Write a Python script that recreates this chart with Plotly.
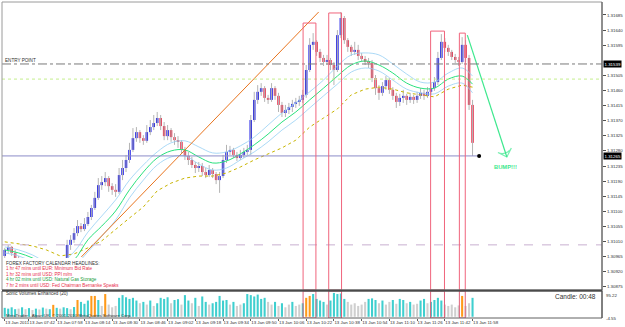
import plotly.graph_objects as go

# ---------------- data ----------------
candle_idx = list(range(136))
opens = [1.30967,1.30985,1.30994,1.30976,1.30961,1.30943,1.30931,1.30937,1.30919,1.30907,
         1.30919,1.30910,1.30895,1.30901,1.30913,1.30907,1.30925,1.30937,1.30949,1.31000,
         1.31015,1.31035,1.31056,1.31047,1.31062,1.31083,1.31110,1.31140,1.31178,1.31187,
         1.31199,1.31175,1.31164,1.31158,1.31208,1.31229,1.31253,1.31283,1.31318,1.31336,
         1.31318,1.31310,1.31336,1.31351,1.31363,1.31378,1.31354,1.31324,1.31342,1.31321,
         1.31312,1.31307,1.31283,1.31265,1.31253,1.31238,1.31229,1.31235,1.31217,1.31208,
         1.31223,1.31211,1.31193,1.31205,1.31253,1.31277,1.31283,1.31268,1.31259,1.31268,
         1.31277,1.31283,1.31372,1.31432,1.31456,1.31467,1.31438,1.31432,1.31467,1.31444,
         1.31417,1.31393,1.31402,1.31411,1.31420,1.31426,1.31432,1.31447,1.31521,1.31596,
         1.31605,1.31575,1.31557,1.31545,1.31551,1.31536,1.31521,1.31625,1.31676,1.31610,
         1.31590,1.31575,1.31581,1.31563,1.31554,1.31545,1.31542,1.31497,1.31467,1.31453,
         1.31473,1.31491,1.31462,1.31444,1.31426,1.31438,1.31444,1.31432,1.31441,1.31432,
         1.31444,1.31453,1.31444,1.31456,1.31467,1.31485,1.31557,1.31605,1.31587,1.31575,
         1.31560,1.31551,1.31545,1.31596,1.31557,1.31417]
closes = [1.30985,1.30994,1.30976,1.30961,1.30943,1.30931,1.30937,1.30919,1.30907,1.30919,
          1.30910,1.30895,1.30901,1.30913,1.30907,1.30925,1.30937,1.30949,1.31000,1.31015,
          1.31035,1.31056,1.31047,1.31062,1.31083,1.31110,1.31140,1.31178,1.31187,1.31199,
          1.31175,1.31164,1.31158,1.31208,1.31229,1.31253,1.31283,1.31318,1.31336,1.31318,
          1.31310,1.31336,1.31351,1.31363,1.31378,1.31354,1.31324,1.31342,1.31321,1.31312,
          1.31307,1.31283,1.31265,1.31253,1.31238,1.31229,1.31235,1.31217,1.31208,1.31223,
          1.31211,1.31193,1.31205,1.31253,1.31277,1.31283,1.31268,1.31259,1.31268,1.31277,
          1.31283,1.31372,1.31432,1.31456,1.31467,1.31438,1.31432,1.31467,1.31444,1.31417,
          1.31393,1.31402,1.31411,1.31420,1.31426,1.31432,1.31447,1.31521,1.31596,1.31605,
          1.31575,1.31557,1.31545,1.31551,1.31536,1.31521,1.31625,1.31676,1.31610,1.31590,
          1.31575,1.31581,1.31563,1.31554,1.31545,1.31542,1.31497,1.31467,1.31453,1.31473,
          1.31491,1.31462,1.31444,1.31426,1.31438,1.31444,1.31432,1.31441,1.31432,1.31444,
          1.31453,1.31444,1.31456,1.31467,1.31485,1.31557,1.31605,1.31587,1.31575,1.31560,
          1.31551,1.31545,1.31596,1.31557,1.31417,1.31304]
highs = [1.30991,1.31000,1.30997,1.30985,1.30967,1.30955,1.30946,1.30949,1.30931,1.30925,
         1.30931,1.30925,1.30910,1.30919,1.30925,1.30931,1.30940,1.30955,1.31015,1.31029,
         1.31050,1.31074,1.31065,1.31080,1.31098,1.31119,1.31158,1.31199,1.31205,1.31217,
         1.31205,1.31184,1.31181,1.31229,1.31253,1.31268,1.31304,1.31348,1.31351,1.31342,
         1.31327,1.31357,1.31372,1.31387,1.31396,1.31387,1.31366,1.31357,1.31348,1.31333,
         1.31324,1.31312,1.31292,1.31277,1.31262,1.31247,1.31247,1.31244,1.31229,1.31238,
         1.31229,1.31217,1.31217,1.31268,1.31298,1.31295,1.31289,1.31277,1.31283,1.31289,
         1.31298,1.31387,1.31456,1.31476,1.31482,1.31473,1.31447,1.31482,1.31473,1.31453,
         1.31426,1.31417,1.31423,1.31432,1.31438,1.31444,1.31462,1.31536,1.31616,1.31631,
         1.31610,1.31584,1.31566,1.31566,1.31557,1.31545,1.31640,1.31694,1.31682,1.31616,
         1.31596,1.31605,1.31596,1.31572,1.31563,1.31557,1.31551,1.31506,1.31476,1.31485,
         1.31503,1.31497,1.31470,1.31453,1.31450,1.31462,1.31450,1.31453,1.31447,1.31456,
         1.31467,1.31462,1.31470,1.31482,1.31500,1.31575,1.31628,1.31616,1.31596,1.31581,
         1.31569,1.31560,1.31619,1.31610,1.31566,1.31432]
lows = [1.30961,1.30973,1.30967,1.30949,1.30937,1.30925,1.30919,1.30910,1.30895,1.30895,
        1.30901,1.30889,1.30880,1.30889,1.30895,1.30901,1.30910,1.30925,1.30940,1.30985,
        1.31006,1.31026,1.31038,1.31041,1.31056,1.31074,1.31104,1.31134,1.31164,1.31175,
        1.31158,1.31149,1.31143,1.31152,1.31193,1.31217,1.31244,1.31277,1.31307,1.31304,
        1.31298,1.31304,1.31327,1.31342,1.31354,1.31342,1.31312,1.31312,1.31307,1.31298,
        1.31289,1.31271,1.31253,1.31238,1.31229,1.31214,1.31217,1.31205,1.31199,1.31202,
        1.31199,1.31181,1.31155,1.31199,1.31244,1.31268,1.31259,1.31250,1.31253,1.31259,
        1.31268,1.31268,1.31366,1.31420,1.31444,1.31426,1.31420,1.31426,1.31432,1.31396,
        1.31381,1.31381,1.31390,1.31396,1.31408,1.31414,1.31423,1.31438,1.31515,1.31581,
        1.31563,1.31545,1.31533,1.31536,1.31521,1.31476,1.31515,1.31616,1.31599,1.31575,
        1.31563,1.31566,1.31551,1.31545,1.31536,1.31527,1.31485,1.31447,1.31432,1.31444,
        1.31462,1.31450,1.31432,1.31408,1.31414,1.31423,1.31417,1.31423,1.31420,1.31423,
        1.31435,1.31432,1.31438,1.31447,1.31459,1.31476,1.31551,1.31575,1.31563,1.31551,
        1.31542,1.31533,1.31539,1.31545,1.31402,1.31265]

volumes = [33,30,35,28, 30,35,28,32,25,30,27,34,30,28, 44, 33,30,35,32,28,36, 62, 55,48,60,
           77,77,62,40,84, 45,35,40, 70,80, 72,66,70,60, 50,55,45,60,40,50, 70,66,72,50,62,
           65,45,80,60,50,70,40,75,55, 45,50,55, 77, 60,62,45, 55, 40,45,50, 84,80,75,82,
           66,70,55, 45,55,40,50,35,45,55,40, 45,50, 70, 77, 84, 66,60,55, 45,60, 88,84,86,
           66, 55,45,50,40,45,55, 66,68,62, 50,60,45,55,62,48,66, 62,50,55,45,48,
           60,66,50,55,62, 70,60,45, 40,45,35,42, 77, 40, 50, 70]
vol_class = ["t","t","t","t", "g","t","g","t","g","t","g","t","g","t", "o",
             "t","g","t","t","g","t", "o", "t","t","t", "o","o","t","g","o",
             "g","g","g", "t","t", "t","t","t","t", "g","t","g","t","g","t",
             "t","t","t","g","t", "t","g","t","t","g","t","g","t","t",
             "g","t","t", "t", "t","t","g", "t", "g","g","t", "t","t","t","t",
             "t","t","g", "g","t","g","t","g","g","t","g", "g","t", "o", "o", "t",
             "t","t","t", "g","t", "t","t","t", "t", "g","g","g","g","g","g",
             "t","t","t", "g","t","g","g","t","g","t", "t","g","t","g","g",
             "t","t","g","t","t", "t","t","g", "g","g","g","g", "o", "g", "g", "t"]

ma_idx = [0,4,8,12,16,20,24,28,32,36,40,44,48,52,56,60,64,68,72,76,80,84,88,92,96,100,
          104,108,112,116,120,124,128,132,135]
ma_mid = [1.30985,1.30976,1.30961,1.30940,1.30931,1.30955,1.31015,1.31056,1.31101,1.31164,
          1.31217,1.31259,1.31280,1.31283,1.31262,1.31244,1.31250,1.31271,1.31298,1.31330,
          1.31366,1.31396,1.31432,1.31467,1.31503,1.31536,1.31548,1.31536,1.31512,1.31482,
          1.31467,1.31467,1.31494,1.31503,1.31479]
ma_high = [1.30994,1.30985,1.30970,1.30949,1.30949,1.30979,1.31038,1.31086,1.31134,1.31193,
           1.31238,1.31277,1.31304,1.31310,1.31292,1.31274,1.31277,1.31295,1.31321,1.31357,
           1.31393,1.31423,1.31456,1.31491,1.31533,1.31566,1.31572,1.31566,1.31539,1.31509,
           1.31485,1.31485,1.31512,1.31527,1.31503]
ma_low = [1.30976,1.30967,1.30949,1.30925,1.30919,1.30937,1.30979,1.31026,1.31074,1.31140,
          1.31193,1.31238,1.31262,1.31265,1.31241,1.31223,1.31229,1.31253,1.31277,1.31307,
          1.31342,1.31372,1.31408,1.31444,1.31479,1.31515,1.31527,1.31518,1.31491,1.31464,
          1.31453,1.31450,1.31473,1.31482,1.31453]
ma_slow = [1.31009,1.31003,1.30997,1.30985,1.30967,1.30973,1.30991,1.31012,1.31047,1.31080,
           1.31113,1.31161,1.31184,1.31199,1.31205,1.31205,1.31214,1.31232,1.31253,1.31271,
           1.31289,1.31312,1.31351,1.31378,1.31405,1.31447,1.31464,1.31470,1.31464,1.31453,
           1.31447,1.31441,1.31464,1.31476,1.31470]

tick_idx = [0,7,15,23,31,39,47,55,63,71,79,87,95,103,111,119,127,135]
tick_labels = ["13 Jan 2011","13 Jan 07:42","13 Jan 07:58","13 Jan 08:14","13 Jan 08:30",
               "13 Jan 08:46","13 Jan 09:02","13 Jan 09:18","13 Jan 09:34","13 Jan 09:50",
               "13 Jan 10:06","13 Jan 10:22","13 Jan 10:38","13 Jan 10:54","13 Jan 11:10",
               "13 Jan 11:26","13 Jan 11:42","13 Jan 11:58"]
price_ticks = [1.31685,1.31640,1.31595,1.31505,1.31460,1.31415,1.31370,1.31325,1.31280,
               1.31235,1.31190,1.31145,1.31100,1.31055,1.31010,1.30965,1.30920,1.30875]

entry_price = 1.31539
target_level = 1.31494
bid_price = 1.31265
low_level = 1.31000
trend_x = [22.1, 90.6]
trend_y = [1.30964, 1.31694]
arrow_x = [133.5, 144.9]
arrow_y = [1.31625, 1.31262]
bump_pos = (144.6, 1.31232)
bid_dot_x = 136.9
box_x0 = [86.1, 93.5, 122.9, 131.2]
box_x1 = [89.8, 97.2, 126.9, 132.9]
box_top = [1.31661, 1.31691, 1.31637, 1.31631]
vol_max, vol_min = 95.22, -4.55
calendar_lines = [("FOREX FACTORY CALENDAR HEADLINES:", "#303030"),
                  ("1 hr 47 mins until EUR: Minimum Bid Rate", "#E8304C"),
                  ("1 hr 32 mins until USD: PPI m/m", "#E8304C"),
                  ("4 hr 02 mins until USD: Natural Gas Storage", "#20A040"),
                  ("7 hr 2 mins until USD: Fed Chairman Bernanke Speaks", "#E8304C")]

# ---------------- layout constants ----------------
W, H = 625, 327
ML, MR, MT, MB = 2, 17, 2, 9
PH = H - MT - MB
def py(px):  # pixel row -> paper fraction
    return (H - MB - px) / PH
main_dom = [py(290), 1]
vol_dom = [0, py(291)]
x_rng = [-0.79, 172.36]
y_rng = [1.308655, 1.317237]
FONT = "Liberation Sans"
fs = 4.4

BLUE, RED, WICK = "#1414E6", "#EA2C4A", "#B4B4B4"
vol_colors = {"g": "#CFCFCF", "t": "#3FCFCF", "o": "#FF9A1A"}

fig = go.Figure()

# wicks
wx, wy = [], []
for i, h, l in zip(candle_idx, highs, lows):
    wx += [i, i, None]
    wy += [l, h, None]
fig.add_trace(go.Scatter(x=wx, y=wy, mode="lines", line=dict(color=WICK, width=1),
                         hoverinfo="skip", showlegend=False))
# bodies
fig.add_trace(go.Bar(x=candle_idx, base=[min(o, c) for o, c in zip(opens, closes)],
                     y=[max(abs(c - o), 0.000015) for o, c in zip(opens, closes)],
                     marker=dict(color=[BLUE if c >= o else RED for o, c in zip(opens, closes)],
                                 line_width=0),
                     width=0.72, showlegend=False, yaxis="y"))

# moving averages
fig.add_trace(go.Scatter(x=ma_idx, y=ma_slow, mode="lines",
                         line=dict(color="#C8B400", width=1, dash="dot"), showlegend=False))
fig.add_trace(go.Scatter(x=ma_idx, y=ma_high, mode="lines",
                         line=dict(color="#96CFF4", width=0.8, shape="spline"), showlegend=False))
fig.add_trace(go.Scatter(x=ma_idx, y=ma_low, mode="lines",
                         line=dict(color="#96CFF4", width=0.8, shape="spline"), showlegend=False))
fig.add_trace(go.Scatter(x=ma_idx, y=ma_mid, mode="lines",
                         line=dict(color="#2AE27E", width=1, shape="spline"), showlegend=False))

# trend line
fig.add_trace(go.Scatter(x=trend_x, y=trend_y, mode="lines",
                         line=dict(color="#E8741E", width=1), showlegend=False))
# bid line + dot
fig.add_trace(go.Scatter(x=[x_rng[0], bid_dot_x], y=[bid_price, bid_price], mode="lines",
                         line=dict(color="#8C8CC8", width=1), showlegend=False))
fig.add_trace(go.Scatter(x=[bid_dot_x], y=[bid_price], mode="markers",
                         marker=dict(color="black", size=4), showlegend=False))
# green arrow
fig.add_trace(go.Scatter(x=arrow_x, y=arrow_y, mode="lines+markers",
                         line=dict(color="#3EE88E", width=1.2),
                         marker=dict(symbol="arrow-wide-open", size=[0, 10], angleref="previous",
                                     color="#3EE88E", line=dict(color="#3EE88E", width=1.2)),
                         showlegend=False))

# volumes
fig.add_trace(go.Bar(x=candle_idx, y=volumes, yaxis="y2",
                     marker=dict(color=[vol_colors[k] for k in vol_class], line_width=0),
                     width=0.6, showlegend=False))

shapes = []
# horizontal level lines
shapes.append(dict(type="line", xref="paper", yref="y", x0=0, x1=1, y0=entry_price, y1=entry_price,
                   line=dict(color="#7A7A7A", width=1, dash="dashdot")))
shapes.append(dict(type="line", xref="paper", yref="y", x0=0, x1=1, y0=target_level, y1=target_level,
                   line=dict(color="#C4EE8C", width=1, dash="dot")))
shapes.append(dict(type="line", xref="paper", yref="y", x0=0, x1=1, y0=low_level, y1=low_level,
                   line=dict(color="#C8B0D0", width=1, dash="dash")))
# calendar backdrop
shapes.append(dict(type="rect", xref="paper", yref="paper", x0=0, x1=0.26, y0=main_dom[0],
                   y1=py(258), fillcolor="white", line_width=0, layer="above"))
# highlight boxes
for a, b, t in zip(box_x0, box_x1, box_top):
    shapes.append(dict(type="rect", xref="x", yref="y", x0=a, x1=b, y0=y_rng[0], y1=t,
                       line=dict(color="#F0647C", width=1)))
    shapes.append(dict(type="rect", xref="x", yref="y2", x0=a, x1=b, y0=vol_min, y1=vol_max,
                       line=dict(color="#E0607A", width=1)))
# frames
shapes.append(dict(type="rect", xref="paper", yref="paper", x0=0, x1=1, y0=main_dom[0], y1=1,
                   line=dict(color="#9A9A9A", width=1)))
shapes.append(dict(type="rect", xref="paper", yref="paper", x0=0, x1=1, y0=0, y1=vol_dom[1],
                   line=dict(color="#606060", width=1)))
shapes.append(dict(type="line", xref="paper", yref="paper", x0=0, x1=1, y0=py(290.5), y1=py(290.5),
                   line=dict(color="#4A4A4A", width=2)))
shapes.append(dict(type="line", xref="paper", yref="paper", x0=1, x1=1, y0=0, y1=1,
                   line=dict(color="#505050", width=1)))

ann = []
ann.append(dict(xref="paper", yref="y", x=0.002, y=entry_price, text="ENTRY POINT", showarrow=False,
                xanchor="left", yanchor="bottom", yshift=-1, font=dict(size=4.6, color="#303030", family=FONT)))
for k, (txt, col) in enumerate(calendar_lines):
    ann.append(dict(xref="paper", yref="paper", x=0.003, y=py(263 + 5.6 * k), text=txt, showarrow=False,
                    xanchor="left", yanchor="middle", font=dict(size=4.6, color=col, family=FONT)))
ann.append(dict(xref="paper", yref="paper", x=0.003, y=py(293.5), text="Sonic Volumes Enhanced (20)",
                showarrow=False, xanchor="left", yanchor="middle", font=dict(size=4.6, color="#303030", family=FONT)))
ann.append(dict(xref="paper", yref="paper", x=0.003, y=py(315.5),
                text="MetaTrader - Alpari UK, © 2001-2010 MetaQuotes Software Corp.",
                showarrow=False, xanchor="left", yanchor="middle", font=dict(size=4.3, color="#303030", family=FONT)))
ann.append(dict(xref="paper", yref="paper", x=(604 - ML) / (W - ML - MR), y=py(296.5), text="Candle: 00:48",
                showarrow=False, xanchor="right", yanchor="middle", font=dict(size=6.5, color="#303030", family=FONT)))
ann.append(dict(x=bump_pos[0], y=bump_pos[1], xref="x", yref="y", text="<b>BUMP!!!</b>", showarrow=False,
                font=dict(size=5.8, color="#3EE88E", family=FONT)))
for val in (entry_price, bid_price):
    ann.append(dict(xref="paper", yref="y", x=1, y=val, text=f"{val:.5f}", showarrow=False, xanchor="left",
                    xshift=1, bgcolor="#000000", borderpad=0.5,
                    font=dict(size=fs, color="white", family=FONT)))
ann.append(dict(xref="paper", yref="y2", x=1, y=vol_max, text=f"{vol_max:.2f}", showarrow=False,
                xanchor="left", yanchor="top", xshift=2, font=dict(size=fs, color="#303030", family=FONT)))
ann.append(dict(xref="paper", yref="y2", x=1, y=vol_min, text=f"{vol_min:.2f}", showarrow=False,
                xanchor="left", yanchor="middle", xshift=2, font=dict(size=fs, color="#303030", family=FONT)))

fig.update_layout(
    width=W, height=H, margin=dict(l=ML, r=MR, t=MT, b=MB),
    paper_bgcolor="white", plot_bgcolor="white", barmode="overlay", showlegend=False,
    font=dict(family=FONT, size=fs, color="#303030"),
    xaxis=dict(range=x_rng, anchor="y2", tickvals=tick_idx, ticktext=tick_labels, tickangle=0,
               ticklabelposition="outside right", ticks="outside", ticklen=2, tickcolor="#606060",
               tickfont=dict(size=fs, color="#303030"), showgrid=False, zeroline=False, showline=False),
    yaxis=dict(domain=main_dom, range=y_rng, side="right", tickvals=price_ticks,
               ticktext=[f"{v:.5f}" for v in price_ticks], ticks="outside", ticklen=3,
               tickcolor="#505050", tickfont=dict(size=fs, color="#303030"),
               showgrid=False, zeroline=False, showline=False),
    yaxis2=dict(domain=vol_dom, range=[vol_min, vol_max], side="right", showticklabels=False,
                ticks="", showgrid=False, zeroline=False, showline=False),
    shapes=shapes, annotations=ann,
)
fig.write_html("out.html")
